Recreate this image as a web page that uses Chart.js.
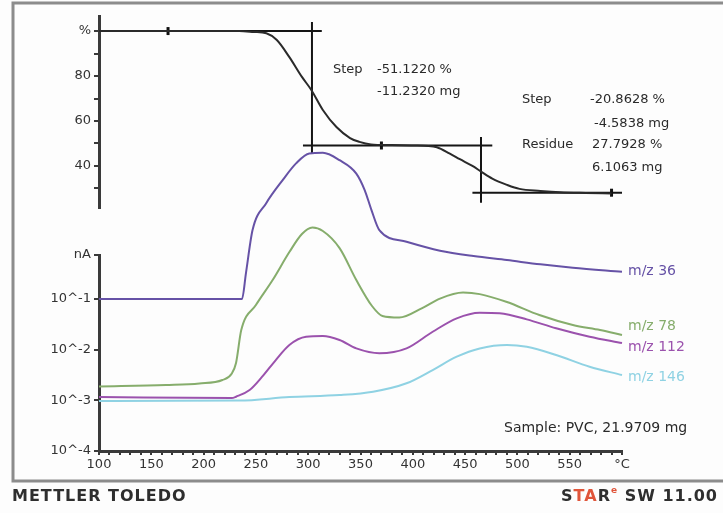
<!DOCTYPE html>
<html>
<head>
<meta charset="utf-8">
<script src="https://cdn.jsdelivr.net/npm/chart.js@4.4.1/dist/chart.umd.min.js"></script>
<style>
  html, body { margin: 0; padding: 0; background: #fff; }
  #wrap { width: 723px; height: 513px; }
</style>
</head>
<body>
<div id="wrap"><canvas id="tgaChart" width="723" height="513"></canvas></div>
<script>
// TGA curve: temperature (°C) and sample weight (%)
const tgaTemp = [100, 180, 234, 248, 260, 270, 282, 294, 303, 314, 327, 340, 349, 360, 380, 400, 415, 423, 435, 445, 457, 465, 476, 490, 502, 522, 541, 565, 590];
const tgaPct  = [100, 100, 100, 99.6, 99.0, 96.0, 88.4, 79.6, 73.8, 64.9, 57.3, 52.4, 50.7, 49.6, 49.3, 49.1, 48.9, 48.3, 45.6, 43.0, 40.0, 37.6, 34.4, 31.6, 29.8, 28.9, 28.3, 28.0, 27.8];

// step evaluation: tangent lines, step lines and limit marks
const tangentTemp = [[100, 313], [295, 476], [457, 600]];
const tangentPct  = [[100, 100], [49.1, 49.1], [28.1, 28.1]];
const stepTemp = [303.6, 465.2];
const stepPct  = [[104, 45.8], [52.9, 23.6]];
const limitTemp = [166, 370, 590];
const limitPct  = [100, 49.1, 28.1];

// MS ion currents (nA)
const mz36Temp = [100, 236.7, 240.5, 246.8, 259.7, 275.6, 288.4, 301, 314, 330, 346, 354, 360.5, 368, 394, 426, 458, 490, 522, 553, 600];
const mz36nA   = [0.1, 0.1, 0.326, 2.3, 7.7, 22.3, 47.6, 75, 77, 55, 30, 14.2, 5.7, 2.3, 1.35, 0.9, 0.705, 0.588, 0.484, 0.415, 0.346];

const mz78Temp = [100, 164, 196, 218, 227, 231, 236, 250, 266, 282, 294, 304, 314, 330, 346, 361, 371, 387, 409, 426, 448, 464, 490, 521, 553, 579, 600];
const mz78nA   = [0.00188, 0.00201, 0.00215, 0.00252, 0.00339, 0.00546, 0.0244, 0.076, 0.237, 0.845, 1.92, 2.58, 2.2, 1.01, 0.237, 0.0728, 0.0462, 0.0431, 0.0664, 0.102, 0.134, 0.125, 0.0872, 0.0483, 0.0307, 0.0244, 0.0195];

const mz112Temp = [100, 227, 231, 244, 256, 269, 282, 298, 314, 330, 346, 368, 394, 419, 442, 464, 483, 509, 537, 569, 600];
const mz112nA   = [0.00116, 0.00111, 0.00118, 0.0016, 0.00293, 0.00625, 0.0124, 0.018, 0.0186, 0.0155, 0.0106, 0.0085, 0.0106, 0.0226, 0.0416, 0.0536, 0.0522, 0.0397, 0.0264, 0.018, 0.0135];

const mz146Temp = [100, 234, 282, 330, 362, 394, 419, 442, 464, 490, 509, 537, 569, 600];
const mz146nA   = [0.00097, 0.00099, 0.00116, 0.00127, 0.00148, 0.00217, 0.00397, 0.00727, 0.0106, 0.0124, 0.0114, 0.00785, 0.00461, 0.00316];

// axis ticks
const msTickValues = [0.0001, 0.001, 0.01, 0.1, 0.74];
const msTickLabels = ['10^-4', '10^-3', '10^-2', '10^-1', 'nA'];
const pctTickLabels = { 100: '%', 80: '80', 60: '60', 40: '40' };

const FONT = 'DejaVu Sans';
const AXIS = '#3a3a3a';

function pts(xs, ys) {
    return xs.map((x, i) => ({ x: x, y: ys[i] }));
}

function ms(label, xs, ys, color, dy) {
    return {
        label: label, data: pts(xs, ys), yAxisID: 'yMS',
        borderColor: color, borderWidth: 2, pointRadius: 0,
        cubicInterpolationMode: 'monotone', clip: false, tagDy: dy
    };
}

const datasets = [
    { label: 'TGA', data: pts(tgaTemp, tgaPct), yAxisID: 'yT', borderColor: '#2a2a2a',
      borderWidth: 2, pointRadius: 0, cubicInterpolationMode: 'monotone' },
    ms('m/z 36', mz36Temp, mz36nA, '#6652a6', 0),
    ms('m/z 78', mz78Temp, mz78nA, '#86ad6c', -9),
    ms('m/z 112', mz112Temp, mz112nA, '#9b52ad', 4),
    ms('m/z 146', mz146Temp, mz146nA, '#8fd2e3', 2),
    { label: 'limits', data: pts(limitTemp, limitPct), yAxisID: 'yT', showLine: false,
      pointStyle: 'line', rotation: 90, pointRadius: 4, borderWidth: 3,
      borderColor: '#111', pointBorderColor: '#111' }
];
tangentTemp.forEach((t, i) => datasets.push({
    label: 'tangent', data: pts(t, tangentPct[i]), yAxisID: 'yT',
    borderColor: '#151515', borderWidth: 2, pointRadius: 0
}));
stepTemp.forEach((t, i) => datasets.push({
    label: 'step', data: pts([t, t], stepPct[i]), yAxisID: 'yT',
    borderColor: '#151515', borderWidth: 2, pointRadius: 0
}));

const decor = {
    id: 'decor',
    beforeDraw(chart) {
        const c = chart.ctx;
        c.save();
        c.fillStyle = '#fdfdfd';
        c.fillRect(0, 0, chart.width, chart.height);
        c.strokeStyle = '#8c8c8c';
        c.lineWidth = 3;
        c.beginPath();
        c.moveTo(730, 3); c.lineTo(13, 3); c.lineTo(13, 481); c.lineTo(730, 481);
        c.stroke();
        c.restore();
    },
    afterDraw(chart) {
        const c = chart.ctx;
        c.save();
        c.textBaseline = 'middle';
        c.fillStyle = '#2a2a2a';
        c.font = '13px "' + FONT + '"';
        c.fillText('Step', 333, 70);
        c.fillText('-51.1220 %', 377, 70);
        c.fillText('-11.2320 mg', 377, 92);
        c.fillText('Step', 522, 100);
        c.fillText('-20.8628 %', 590, 100);
        c.fillText('-4.5838 mg', 594, 124);
        c.fillText('Residue', 522, 145);
        c.fillText('27.7928 %', 592, 145);
        c.fillText('6.1063 mg', 592, 168);
        c.font = '14px "' + FONT + '"';
        c.fillText('Sample: PVC, 21.9709 mg', 504, 428);

        // curve names at the end of each MS line
        chart.data.datasets.forEach((ds, i) => {
            if (ds.yAxisID !== 'yMS') return;
            const els = chart.getDatasetMeta(i).data;
            const last = els[els.length - 1];
            c.fillStyle = ds.borderColor;
            c.font = '14px "' + FONT + '"';
            c.fillText(ds.label, last.x + 6, last.y + ds.tagDy);
        });

        // footer
        c.letterSpacing = '1px';
        c.fillStyle = '#2e2e2e';
        c.font = 'bold 16px "' + FONT + '"';
        c.fillText('METTLER TOLEDO', 12, 497);

        const parts = [
            ['S', '#2e2e2e', 16, 497], ['TA', '#e0553a', 16, 497], ['R', '#2e2e2e', 16, 497],
            ['e', '#e0553a', 9, 491], [' SW 11.00', '#2e2e2e', 16, 497]
        ];
        let total = 0;
        parts.forEach(p => {
            c.font = 'bold ' + p[2] + 'px "' + FONT + '"';
            total += c.measureText(p[0]).width;
        });
        let x = 718 - total;
        parts.forEach(p => {
            c.font = 'bold ' + p[2] + 'px "' + FONT + '"';
            c.fillStyle = p[1];
            c.fillText(p[0], x, p[3]);
            x += c.measureText(p[0]).width;
        });
        c.restore();
    }
};

const tickFont = { family: FONT, size: 13 };

const config = {
    type: 'line',
    data: { datasets: datasets },
    options: {
        responsive: false,
        animation: false,
        layout: { padding: { left: 0, right: 101, top: 16, bottom: 0 } },
        plugins: { legend: { display: false }, tooltip: { enabled: false } },
        scales: {
            x: {
                type: 'linear', position: 'bottom', min: 100, max: 600,
                afterFit: s => { s.height = 62; },
                border: { color: AXIS, width: 3 },
                grid: { drawOnChartArea: false, color: AXIS, lineWidth: 2, tickLength: 4 },
                ticks: {
                    stepSize: 10, autoSkip: false, maxRotation: 0, color: '#333', font: tickFont, padding: 2,
                    callback: v => v % 50 === 0 ? (v === 600 ? '°C' : String(v)) : ''
                }
            },
            yMS: {
                type: 'logarithmic', position: 'left', stack: 'left', stackWeight: 196,
                min: 0.0001, max: 0.74,
                afterFit: s => { s.width = 99; },
                afterBuildTicks: s => { s.ticks = msTickValues.map(v => ({ value: v })); },
                border: { color: AXIS, width: 3 },
                grid: { drawOnChartArea: false, color: AXIS, lineWidth: 2, tickLength: 5 },
                ticks: { color: '#333', font: tickFont, padding: 3,
                         callback: (v, i) => msTickLabels[i] }
            },
            yGap: {
                type: 'linear', position: 'left', stack: 'left', stackWeight: 47,
                display: false, afterFit: s => { s.width = 99; }
            },
            yT: {
                type: 'linear', position: 'left', stack: 'left', stackWeight: 192,
                min: 21.3, max: 106.7,
                afterFit: s => { s.width = 99; },
                border: { color: AXIS, width: 3 },
                grid: { drawOnChartArea: false, color: AXIS, lineWidth: 2, tickLength: 5 },
                ticks: { stepSize: 10, includeBounds: false, autoSkip: false, color: '#333', font: tickFont, padding: 3,
                         callback: v => pctTickLabels[v] || '' }
            }
        }
    },
    plugins: [decor]
};

window.onload = function() {
    const ctx = document.getElementById('tgaChart').getContext('2d');
    new Chart(ctx, config);
};
</script>
</body>
</html>
